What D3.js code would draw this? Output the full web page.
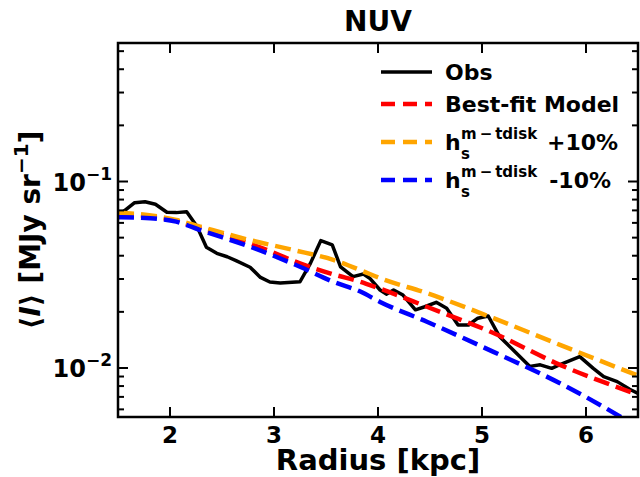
<!DOCTYPE html>
<html>
<head>
<meta charset="utf-8">
<script src="https://cdn.jsdelivr.net/npm/d3@7"></script>
<style>
  body { margin: 0; background: #fff; }
  svg text { font-family: "DejaVu Sans", sans-serif; font-weight: bold; fill: #000; }
</style>
</head>
<body>
<div id="chart"></div>
<script>
// observed NUV profile
var obsR = [1.53, 1.66, 1.76, 1.86, 1.97, 2.06, 2.16, 2.26, 2.35, 2.45, 2.55, 2.64, 2.77, 2.87, 2.96, 3.06, 3.25, 3.35, 3.45, 3.56, 3.64, 3.76, 3.86, 3.92, 4.02, 4.08, 4.15, 4.24, 4.36, 4.45, 4.56, 4.66, 4.77, 4.87, 4.96, 5.06, 5.17, 5.30, 5.46, 5.56, 5.67, 5.78, 5.94, 6.07, 6.17, 6.30, 6.42, 6.50];
var obsI = [0.0675, 0.0770, 0.0779, 0.0755, 0.0684, 0.0681, 0.0689, 0.0573, 0.0444, 0.0412, 0.0395, 0.0375, 0.0347, 0.0306, 0.0289, 0.0286, 0.0290, 0.0364, 0.0482, 0.0457, 0.0349, 0.0309, 0.0319, 0.0303, 0.0262, 0.0249, 0.0262, 0.0246, 0.0205, 0.0213, 0.0225, 0.0209, 0.0170, 0.0170, 0.0185, 0.0190, 0.0147, 0.0125, 0.0102, 0.0104, 0.00996, 0.0106, 0.0115, 0.00995, 0.00898, 0.00845, 0.00769, 0.00731];

// models
var modR = [1.5, 1.8, 2.06, 2.29, 2.41, 2.67, 2.93, 3.25, 3.57, 3.83, 3.99, 4.47, 5.11, 5.75, 6.5];
var bestI = [0.0670, 0.0650, 0.0615, 0.0560, 0.0538, 0.0486, 0.0430, 0.0364, 0.0318, 0.0290, 0.0270, 0.0213, 0.0154, 0.0104, 0.0072];
var plusR = [1.5, 1.8, 2.06, 2.29, 2.77, 3.19, 3.57, 3.83, 4.02, 4.47, 5.11, 5.75, 6.5];
var plusI = [0.0680, 0.0660, 0.0622, 0.0573, 0.0485, 0.0429, 0.0380, 0.0335, 0.0303, 0.0252, 0.0185, 0.0133, 0.0091];
var minusR = [1.5, 1.81, 2.06, 2.29, 2.77, 3.25, 3.57, 3.83, 4.02, 4.47, 5.11, 5.75, 6.33, 6.5];
var minusI = [0.0643, 0.0635, 0.0609, 0.0549, 0.0447, 0.0349, 0.0290, 0.0257, 0.0226, 0.0177, 0.0122, 0.00828, 0.00548, 0.0048];

var xTicks = [2, 3, 4, 5, 6];
var yMajor = [0.01, 0.1];
var yMajorExp = ["\u22122", "\u22121"];
var yMinor = [0.006, 0.007, 0.008, 0.009, 0.02, 0.03, 0.04, 0.05, 0.06, 0.07, 0.08, 0.09, 0.2, 0.3, 0.4, 0.5];

var W = 640, H = 477;
var margin = { left: 118, right: 2, top: 43, bottom: 60 };
var width = W - margin.left - margin.right;
var height = H - margin.top - margin.bottom;

var svg = d3.select("#chart").append("svg")
    .attr("width", W)
    .attr("height", H);

var g = svg.append("g")
    .attr("transform", "translate(" + margin.left + "," + margin.top + ")");

var xScale = d3.scaleLinear().domain([1.5, 6.5]).range([0, width]);
var yScale = d3.scaleLog().domain([0.00546, 0.553]).range([height, 0]);

g.append("clipPath").attr("id", "clip")
    .append("rect").attr("width", width).attr("height", height);

function pairs(xs, ys) {
    return xs.map(function (d, i) { return [d, ys[i]]; });
}

var line = d3.line()
    .x(function (d) { return xScale(d[0]); })
    .y(function (d) { return yScale(d[1]); });

var smooth = d3.line()
    .x(function (d) { return xScale(d[0]); })
    .y(function (d) { return yScale(d[1]); })
    .curve(d3.curveMonotoneX);

var lines = g.append("g").attr("clip-path", "url(#clip)");

lines.append("path")
    .datum(pairs(obsR, obsI))
    .attr("d", line)
    .attr("fill", "none")
    .attr("stroke", "#000")
    .attr("stroke-width", 3.5)
    .attr("stroke-linejoin", "round");

var models = [
    { r: modR, v: bestI, color: "red" },
    { r: plusR, v: plusI, color: "orange" },
    { r: minusR, v: minusI, color: "blue" }
];

models.forEach(function (m) {
    lines.append("path")
        .datum(pairs(m.r, m.v))
        .attr("d", smooth)
        .attr("fill", "none")
        .attr("stroke", m.color)
        .attr("stroke-width", 4.5)
        .attr("stroke-dasharray", "16,7");
});

// ticks, all pointing inward
var tickW = 2;
function addTicks(sel, vals, len, orient) {
    vals.forEach(function (v) {
        if (orient === "bottom") {
            sel.append("line").attr("x1", xScale(v)).attr("x2", xScale(v))
                .attr("y1", height).attr("y2", height - len);
        } else if (orient === "top") {
            sel.append("line").attr("x1", xScale(v)).attr("x2", xScale(v))
                .attr("y1", 0).attr("y2", len);
        } else if (orient === "left") {
            sel.append("line").attr("x1", 0).attr("x2", len)
                .attr("y1", yScale(v)).attr("y2", yScale(v));
        } else {
            sel.append("line").attr("x1", width).attr("x2", width - len)
                .attr("y1", yScale(v)).attr("y2", yScale(v));
        }
    });
}
var ticks = g.append("g").attr("stroke", "#000").attr("stroke-width", tickW);
addTicks(ticks, xTicks, 10, "bottom");
addTicks(ticks, xTicks, 10, "top");
addTicks(ticks, yMajor, 10, "left");
addTicks(ticks, yMajor, 10, "right");
addTicks(ticks, yMinor, 6, "left");
addTicks(ticks, yMinor, 6, "right");

g.append("rect")
    .attr("width", width)
    .attr("height", height)
    .attr("fill", "none")
    .attr("stroke", "#000")
    .attr("stroke-width", 2.5);

// tick labels
g.selectAll(".xlab").data(xTicks).enter().append("text")
    .attr("class", "xlab")
    .attr("x", function (d) { return xScale(d); })
    .attr("y", height + 26)
    .attr("text-anchor", "middle")
    .style("font-size", "23px")
    .text(function (d) { return d; });

yMajor.forEach(function (v, i) {
    var t = g.append("text")
        .attr("x", -6)
        .attr("y", yScale(v) + 9)
        .attr("text-anchor", "end")
        .style("font-size", "24px");
    t.append("tspan").text("10");
    t.append("tspan").attr("dy", -11).style("font-size", "17px").text(yMajorExp[i]);
});

// title and axis labels
svg.append("text")
    .attr("x", margin.left + width / 2)
    .attr("y", 31)
    .attr("text-anchor", "middle")
    .style("font-size", "28px")
    .text("NUV");

svg.append("text")
    .attr("x", margin.left + width / 2)
    .attr("y", 470)
    .attr("text-anchor", "middle")
    .style("font-size", "29px")
    .text("Radius [kpc]");

var yl = svg.append("text")
    .attr("transform", "translate(40," + (margin.top + height / 2) + ") rotate(-90)")
    .attr("text-anchor", "middle")
    .style("font-size", "28px");
yl.append("tspan").text("\u27E8");
yl.append("tspan").style("font-style", "italic").text("I");
yl.append("tspan").text("\u27E9 [MJy sr");
yl.append("tspan").attr("dy", -12).style("font-size", "20px").text("\u22121");
yl.append("tspan").attr("dy", 12).text("]");

// legend
var legend = [
    { color: "#000", dash: null, w: 3.5 },
    { color: "red", dash: "14,8", w: 4.5 },
    { color: "orange", dash: "14,8", w: 4.5 },
    { color: "blue", dash: "14,8", w: 4.5 }
];
var legY = [72, 104, 142, 180];

legend.forEach(function (d, i) {
    svg.append("line")
        .attr("x1", 381).attr("x2", 432)
        .attr("y1", legY[i]).attr("y2", legY[i])
        .attr("stroke", d.color)
        .attr("stroke-width", d.w)
        .attr("stroke-dasharray", d.dash);
});

svg.append("text").attr("x", 445).attr("y", legY[0] + 8).style("font-size", "22px").text("Obs");
svg.append("text").attr("x", 445).attr("y", legY[1] + 8).style("font-size", "22px").text("Best-fit Model");

var hLabels = ["+10%", "\u200A-10%"];
hLabels.forEach(function (lab, i) {
    var t = svg.append("text").attr("x", 445).attr("y", legY[2 + i] + 8).style("font-size", "22px");
    t.append("tspan").text("h");
    t.append("tspan").attr("x", 461).attr("dy", -11).style("font-size", "15px").text("m\u2009\u2212\u2009tdisk");
    t.append("tspan").attr("x", 461).attr("dy", 20).style("font-size", "15px").text("s");
    t.append("tspan").attr("x", 547).attr("dy", -9).text(lab);
});
</script>
</body>
</html>
